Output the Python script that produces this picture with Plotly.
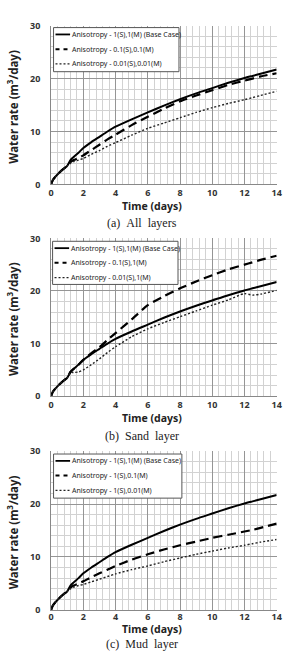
import plotly.graph_objects as go

time_days = [0, 0.1, 0.25, 0.5, 0.75, 1, 1.2, 1.4, 1.7, 2, 2.5, 3, 3.5, 4, 5, 6, 7, 8, 9, 10, 11, 12, 12.5, 13, 14]

base_case = [0, 0.8, 1.4, 2.2, 2.9, 3.5, 4.6, 5.2, 6.0, 6.9, 8.0, 9.0, 10.0, 10.9, 12.3, 13.6, 14.9, 16.1, 17.2, 18.2, 19.2, 20.1, 20.5, 20.9, 21.7]

all_01 = [0, 0.8, 1.4, 2.2, 2.9, 3.5, 4.2, 4.6, 5.0, 5.5, 6.5, 7.5, 8.5, 9.4, 11.2, 12.8, 14.3, 15.7, 16.8, 17.8, 18.8, 19.6, 20.0, 20.4, 21.0]
all_001 = [0, 0.8, 1.4, 2.2, 2.9, 3.5, 4.0, 4.3, 4.6, 4.9, 5.7, 6.4, 7.2, 7.9, 9.3, 10.6, 11.6, 12.6, 13.6, 14.5, 15.3, 16.0, 16.4, 16.8, 17.6]

sand_01 = [0, 0.8, 1.4, 2.2, 2.9, 3.5, 4.6, 5.2, 6.0, 6.9, 8.2, 9.3, 10.7, 12.0, 14.6, 17.3, 19.0, 20.5, 21.8, 23.0, 24.1, 25.0, 25.45, 25.9, 26.7]
sand_001 = [0, 0.8, 1.4, 2.2, 2.9, 3.5, 4.5, 4.5, 4.6, 5.0, 6.0, 7.1, 8.3, 9.4, 11.3, 12.8, 14.0, 15.1, 16.2, 17.3, 18.3, 19.5, 19.2, 19.4, 20.1]

mud_01 = [0, 0.8, 1.4, 2.2, 2.9, 3.5, 4.2, 4.6, 5.0, 5.4, 6.2, 6.9, 7.6, 8.3, 9.5, 10.5, 11.4, 12.2, 12.9, 13.6, 14.2, 14.8, 15.1, 15.5, 16.3]
mud_001 = [0, 0.8, 1.4, 2.2, 2.9, 3.5, 4.0, 4.3, 4.6, 4.8, 5.3, 5.8, 6.3, 6.8, 7.6, 8.3, 9.1, 9.8, 10.5, 11.1, 11.7, 12.2, 12.5, 12.8, 13.3]

x_title = "Time (days)"
y_title = "Water rate (m<sup>3</sup>/day)"

panels = [
    {"series": [base_case, all_01, all_001],
     "names": ["Anisotropy - 1(S),1(M) (Base Case)", "Anisotropy - 0.1(S),0.1(M)", "Anisotropy - 0.01(S),0.01(M)"],
     "caption": "(a)\u00a0\u00a0All\u00a0\u00a0layers"},
    {"series": [base_case, sand_01, sand_001],
     "names": ["Anisotropy - 1(S),1(M) (Base Case)", "Anisotropy - 0.1(S),1(M)", "Anisotropy - 0.01(S),1(M)"],
     "caption": "(b)\u00a0\u00a0Sand\u00a0\u00a0layer"},
    {"series": [base_case, mud_01, mud_001],
     "names": ["Anisotropy - 1(S),1(M) (Base Case)", "Anisotropy - 1(S),0.1(M)", "Anisotropy - 1(S),0.01(M)"],
     "caption": "(c)\u00a0\u00a0Mud\u00a0\u00a0layer"},
]

W, H = 288, 660
boxes = [(19, 181), (236, 397), (453, 615)]
x_left, x_right = 49.5, 281.5
caption_y = [220, 438, 650]
title_off = [22, 22, 20]
tick_standoff = [0, 0, -2]
legend_boxes = [(52, 21, 181, 66), (51, 239, 180, 283), (52, 456, 184, 501)]
row_off = [7, 22, 37]

styles = [dict(color="black", width=2, dash="solid"),
          dict(color="black", width=2.2, dash="9px,5px"),
          dict(color="#222", width=1.4, dash="2px,2px")]
swatch_dash = ["solid", "4px,4px", "2px,2px"]

def px(x):
    return x / W

def py(y):
    return 1 - y / H

fig = go.Figure()
annotations = []
shapes = []
for i, p in enumerate(panels):
    k = "" if i == 0 else str(i + 1)
    for s, name, st in zip(p["series"], p["names"], styles):
        fig.add_trace(go.Scatter(x=time_days, y=s, mode="lines", name=name, showlegend=False,
                                 line=dict(shape="spline", smoothing=0.6, **st),
                                 xaxis="x" + k, yaxis="y" + k))
    top, bot = boxes[i]
    fig.update_layout(**{
        "xaxis" + k: dict(domain=[px(x_left), px(x_right)], range=[0, 14], dtick=2,
                          anchor="y" + k, showgrid=True, gridcolor="#959595", gridwidth=1,
                          minor=dict(dtick=0.4, showgrid=True, gridcolor="#d2d2d2", gridwidth=1),
                          showline=True, linecolor="#888", zeroline=False,
                          tickfont=dict(family="Noto Sans", size=9, color="#333", weight="bold"),
                          ticks="", ticklabelstandoff=tick_standoff[i]),
        "yaxis" + k: dict(domain=[py(bot), py(top)], range=[0, 30], dtick=10,
                          anchor="x" + k, showgrid=True, gridcolor="#959595", gridwidth=1,
                          minor=dict(dtick=2, showgrid=True, gridcolor="#d2d2d2", gridwidth=1),
                          showline=True, linecolor="#888", zeroline=False,
                          tickfont=dict(family="Noto Sans", size=9, color="#333", weight="bold"),
                          ticks="", ticklabelstandoff=8),
    })
    # axis titles
    annotations.append(dict(text=x_title, x=px(153), y=py(bot + title_off[i]), xref="paper", yref="paper",
                            xanchor="center", yanchor="middle", showarrow=False,
                            font=dict(family="Noto Sans", size=10.5, color="#222", weight="bold")))
    annotations.append(dict(text=y_title, x=px(10), y=py((top + bot) / 2 + 2), xref="paper", yref="paper",
                            xanchor="center", yanchor="middle", textangle=-90, showarrow=False,
                            font=dict(family="Noto Sans", size=11.5, color="#222", weight="bold")))
    # caption
    annotations.append(dict(text=p["caption"], x=px(143), y=py(caption_y[i]), xref="paper", yref="paper",
                            xanchor="center", yanchor="middle", showarrow=False,
                            font=dict(family="Liberation Serif", size=12, color="#222")))
    # legend box
    lx0, ly0, lx1, ly1 = legend_boxes[i]
    shapes.append(dict(type="rect", xref="paper", yref="paper", x0=px(lx0), x1=px(lx1), y0=py(ly1), y1=py(ly0),
                       fillcolor="white", line=dict(color="#555", width=1), layer="above"))
    for j, (name, st) in enumerate(zip(p["names"], styles)):
        yy = ly0 + row_off[j]
        shapes.append(dict(type="line", xref="paper", yref="paper", x0=px(lx0 + 2), x1=px(lx0 + 17),
                           y0=py(yy), y1=py(yy), layer="above",
                           line=dict(color=st["color"], width=st["width"] * 0.9, dash=swatch_dash[j])))
        annotations.append(dict(text=name, x=px(lx0 + 17), y=py(yy), xref="paper", yref="paper",
                                xanchor="left", yanchor="middle", showarrow=False,
                                font=dict(family="Noto Sans", size=7, color="#222")))

fig.update_layout(width=W, height=H, margin=dict(l=0, r=0, t=0, b=0),
                  paper_bgcolor="white", plot_bgcolor="white",
                  annotations=annotations, shapes=shapes, showlegend=False)
fig.write_html("out.html")
